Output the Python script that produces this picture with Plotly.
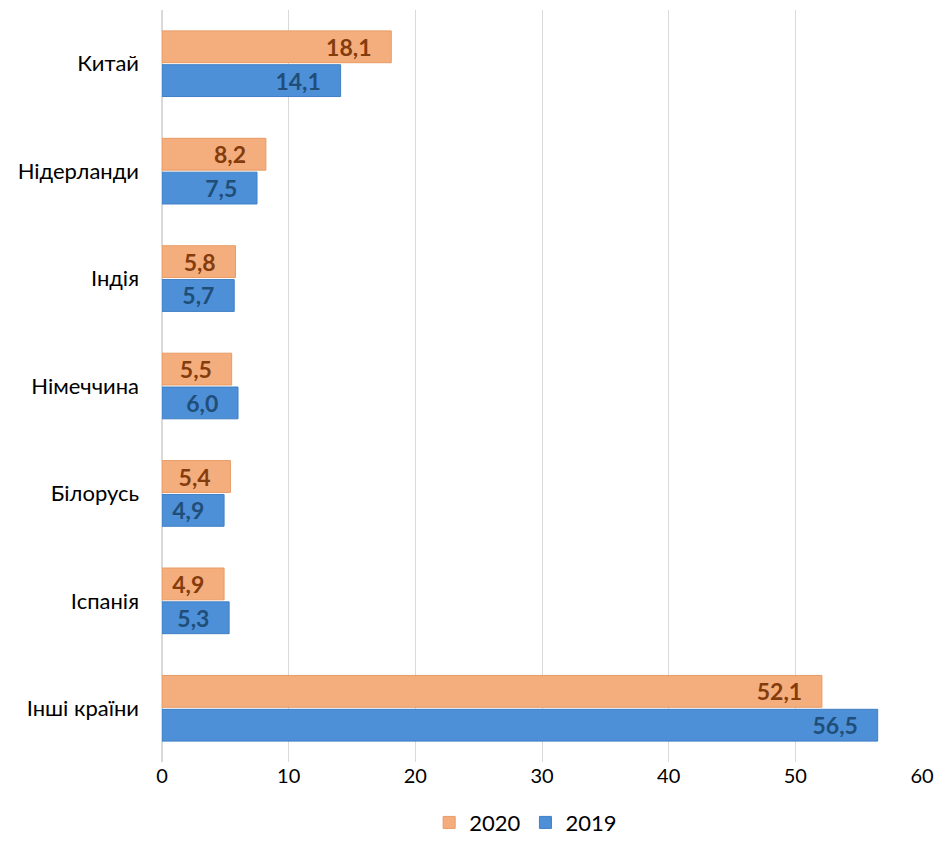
import plotly.graph_objects as go

# Data
countries = ["Китай", "Нідерланди", "Індія", "Німеччина", "Білорусь", "Іспанія", "Інші країни"]
share_2020 = [18.1, 8.2, 5.8, 5.5, 5.4, 4.9, 52.1]
share_2019 = [14.1, 7.5, 5.7, 6.0, 4.9, 5.3, 56.5]
x_ticks = [0, 10, 20, 30, 40, 50, 60]


def fmt(values):
    # comma decimal separator, trailing padding so the label sits a bit inside the bar end
    return [f"{v:.1f}".replace(".", ",") + "\u00a0\u00a0\u00a0" for v in values]


FONT = "Lato, Open Sans, sans-serif"

fig = go.Figure()

fig.add_trace(go.Bar(
    y=countries, x=share_2020, name="2020", orientation="h",
    marker=dict(color="#F4AE7E", line=dict(color="#E99A63", width=1)),
    text=fmt(share_2020), textposition="inside", insidetextanchor="end",
    constraintext="none",
    textfont=dict(family=FONT, size=23, color="#843C0C", weight="bold"),
))
fig.add_trace(go.Bar(
    y=countries, x=share_2019, name="2019", orientation="h",
    marker=dict(color="#4E90D8", line=dict(color="#3F7FC4", width=1)),
    text=fmt(share_2019), textposition="inside", insidetextanchor="end",
    constraintext="none",
    textfont=dict(family=FONT, size=23, color="#1F4E79", weight="bold"),
))

fig.update_layout(
    barmode="group",
    bargap=0.37,
    bargroupgap=0.06,
    width=937, height=847,
    margin=dict(l=162, r=15, t=10, b=85, autoexpand=False),
    plot_bgcolor="white", paper_bgcolor="white",
    font=dict(family=FONT, size=20, color="#000000"),
    uniformtext=dict(minsize=10, mode="show"),
    legend=dict(orientation="h", xref="container", x=0.561, xanchor="center",
                yref="container", y=0.004, yanchor="bottom",
                font=dict(size=22), traceorder="normal"),
    xaxis=dict(range=[0, 60], tickvals=x_ticks, showgrid=True, gridcolor="#D9D9D9",
               gridwidth=1, zeroline=True, zerolinecolor="#D9D9D9", showline=False,
               ticks="", tickfont=dict(size=20), automargin=False),
    yaxis=dict(autorange="reversed", showgrid=False, showline=False, ticks="",
               ticklabelstandoff=22, tickfont=dict(size=22), automargin=False),
)

# drop the browser's default body margin so the figure fills the window exactly
fig.write_html("out.html", config={"displayModeBar": False},
               post_script="document.body.style.margin='0';")
